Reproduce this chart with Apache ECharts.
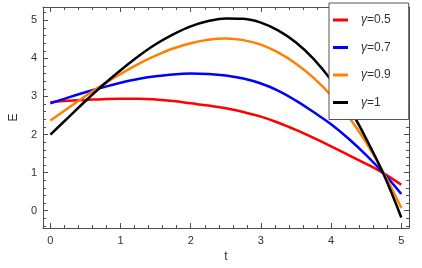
<!DOCTYPE html>
<html><head><meta charset="utf-8">
<script src="https://cdn.jsdelivr.net/npm/echarts@6/dist/echarts.min.js"></script>
<style>html,body{margin:0;padding:0;background:#fff}#c{width:422px;height:268px}</style>
</head><body><div id="c"></div>
<script>
const tValues = [0,0.25,0.5,0.75,1,1.25,1.5,1.75,2,2.25,2.5,2.75,3,3.25,3.5,3.75,4,4.25,4.5,4.75,5];
const gamma05 = [2.85,2.89,2.91,2.93,2.94,2.94,2.92,2.88,2.82,2.76,2.69,2.59,2.47,2.31,2.12,1.91,1.69,1.46,1.23,0.98,0.68];
const gamma07 = [2.82,2.97,3.11,3.24,3.36,3.46,3.53,3.58,3.60,3.59,3.55,3.47,3.34,3.15,2.89,2.59,2.27,1.89,1.46,0.98,0.44];
const gamma09 = [2.37,2.69,3.01,3.31,3.59,3.85,4.07,4.26,4.40,4.49,4.52,4.48,4.36,4.15,3.86,3.49,3.03,2.47,1.79,0.99,0.07];
const gamma10 = [2.00,2.44,2.88,3.30,3.69,4.05,4.37,4.63,4.84,4.98,5.05,5.04,4.94,4.73,4.42,3.99,3.43,2.73,1.89,0.95,-0.18];
const seriesNames = ['γ=0.5','γ=0.7','γ=0.9','γ=1'];
const seriesValues = [gamma05, gamma07, gamma09, gamma10];
const seriesColors = ['#ff0000','#0000ff','#ff8000','#000000'];
const xRange = [-0.105, 5.11];
const yRange = [-0.455, 5.35];

const FONT = 'Liberation Sans';
function axisBase(showLabels){
  return {
    type:'value',
    axisLine:{show:true,onZero:false,lineStyle:{color:'#4d4d4d',width:1}},
    axisTick:{show:true,inside:true,length:5,lineStyle:{color:'#4d4d4d'}},
    minorTick:{show:true,splitNumber:5,length:3,lineStyle:{color:'#4d4d4d'}},
    splitLine:{show:false},
    axisLabel:{show:showLabels,color:'#333',fontFamily:FONT,fontSize:11,
      formatter:v=>Number.isInteger(Math.round(v*1e6)/1e6)?String(Math.round(v)):''}
  };
}
const chart = echarts.init(document.getElementById('c'),null,{renderer:'canvas'});
const xMain = Object.assign(axisBase(true),{min:xRange[0],max:xRange[1],position:'bottom',
  name:'t',nameLocation:'middle',nameGap:23,nameTextStyle:{color:'#333',fontFamily:FONT,fontSize:12}});
xMain.axisLabel.margin=7;
const xTop = Object.assign(axisBase(false),{min:xRange[0],max:xRange[1],position:'top'});
const yMain = Object.assign(axisBase(true),{min:yRange[0],max:yRange[1],position:'left',
  name:'E',nameLocation:'middle',nameGap:12,nameRotate:90,nameTextStyle:{color:'#333',fontFamily:FONT,fontSize:12}});
yMain.axisLabel.margin=6;
const yRight = Object.assign(axisBase(false),{min:yRange[0],max:yRange[1],position:'right'});

chart.setOption({
  animation:false,
  backgroundColor:'#fff',
  grid:{left:43,right:13,top:7,bottom:35,containLabel:false},
  xAxis:[xMain,xTop],
  yAxis:[yMain,yRight],
  legend:{
    orient:'vertical',left:329,top:3,data:seriesNames,
    icon:'rect',itemWidth:15,itemHeight:3,itemGap:15.5,
    backgroundColor:'#fff',borderColor:'#555',borderWidth:1,
    padding:[11,18,11,4],
    textStyle:{fontFamily:FONT,fontSize:12,color:'#333',padding:[0,0,0,8],
      rich:{g:{fontStyle:'italic',fontFamily:FONT,fontSize:12,color:'#333'},
            n:{fontFamily:FONT,fontSize:12,color:'#333'}}},
    formatter:name=>'{g|γ}{n|'+name.slice(1)+'}'
  },
  series:seriesNames.map((n,i)=>({
    name:n,type:'line',xAxisIndex:0,yAxisIndex:0,
    data:tValues.map((t,j)=>[t,seriesValues[i][j]]),
    showSymbol:false,smooth:0.4,
    lineStyle:{width:2.5,color:seriesColors[i]},
    itemStyle:{color:seriesColors[i]}
  }))
});
</script></body></html>
